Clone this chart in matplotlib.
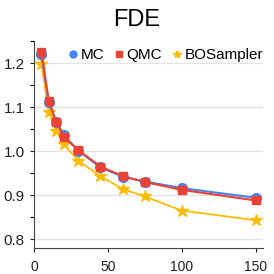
import numpy as np
import matplotlib.pyplot as plt
from matplotlib.lines import Line2D

plt.rcParams['font.family'] = ['Liberation Sans', 'DejaVu Sans']

steps = [5, 10, 15, 20, 30, 45, 60, 75, 100, 150]
mc = [1.221, 1.112, 1.067, 1.037, 1.001, 0.963, 0.942, 0.931, 0.916, 0.894]
qmc = [1.226, 1.114, 1.067, 1.033, 1.002, 0.965, 0.943, 0.930, 0.912, 0.888]
bos = [1.199, 1.088, 1.046, 1.016, 0.978, 0.943, 0.914, 0.897, 0.865, 0.843]

fig = plt.figure(figsize=(2.74, 2.74), dpi=100)
ax = fig.add_axes([0.124, 0.095, 0.836, 0.755])

ax.plot(steps, mc, color="#4285F4", marker="o", markersize=7, lw=1.5, zorder=3)
ax.plot(steps, qmc, color="#EA4335", marker="s", markersize=6, lw=1.5, zorder=4)
ax.plot(steps, bos, color="#FBBC04", marker="*", markersize=9, lw=1.3, zorder=2)

ax.set_xlim(0, 155)
ax.set_ylim(0.78, 1.25)
ax.set_xticks([0, 50, 100, 150])
ax.set_yticks([0.8, 0.9, 1.0, 1.1, 1.2])
ax.set_yticks(np.arange(0.8, 1.26, 0.05), minor=True)
ax.yaxis.grid(True, color="#e3e3e3", lw=1)
ax.set_axisbelow(True)
for s in ["top", "right"]:
    ax.spines[s].set_visible(False)
for s in ["left", "bottom"]:
    ax.spines[s].set_color("#444444")
ax.tick_params(colors="#222222", length=3, width=0.8)
ax.tick_params(axis="y", which="both", labelsize=11, length=3, width=0.8)
ax.tick_params(axis="x", labelsize=10, pad=6)

fig.text(0.5, 0.927, "FDE", ha="center", va="center", fontsize=17)

handles = [
    Line2D([], [], color="#4285F4", marker="o", ls="", markersize=5),
    Line2D([], [], color="#EA4335", marker="s", ls="", markersize=4),
    Line2D([], [], color="#FBBC04", marker="*", ls="", markersize=6),
]
fig.legend(handles, ["MC", "QMC", "BOSampler"], ncol=3, frameon=False,
           loc="center right", bbox_to_anchor=(0.96, 1 - 55 / 274), fontsize=11,
           handletextpad=0.05, columnspacing=0.5, handlelength=0.9,
           borderpad=0, borderaxespad=0)

plt.savefig("out.png", dpi=100)
